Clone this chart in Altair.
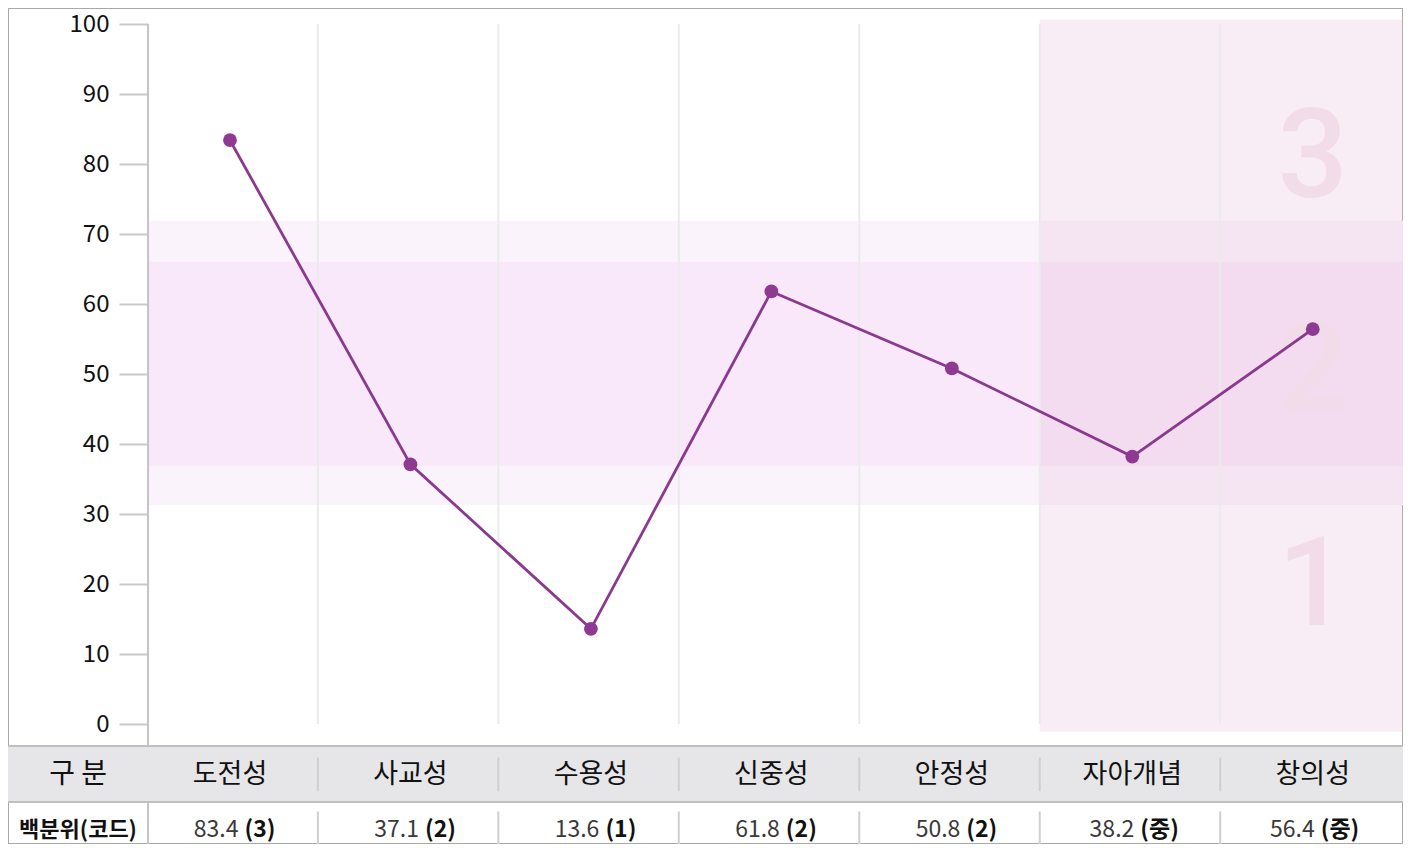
import altair as alt
import pandas as pd

# ---- data ----
categories = ["도전성", "사교성", "수용성", "신중성", "안정성", "자아개념", "창의성"]
percentiles = [83.4, 37.1, 13.6, 61.8, 50.8, 38.2, 56.4]
codes = ["3", "2", "1", "2", "2", "중", "중"]
y_ticks = [0, 10, 20, 30, 40, 50, 60, 70, 80, 90, 100]
outer_band = [31.3, 71.9]
inner_band = [36.9, 66.0]
zone_labels = ["3", "2", "1"]
zone_label_levels = [75.3, 44.8, 14.1]
header_label = "구 분"
row_label = "백분위(코드)"

FONT = "Noto Sans CJK KR"
XMIN, XMAX = -1.23, 6.5
YMIN, YMAX = -17.14, 102.29
HEAD_TOP, HEAD_BOT = -3.14, -11.14
PX = 180.5  # pixels per x unit
SEP = 0.487  # column separator offset from a category centre

n = len(categories)
# split "83.4 (3)" into a regular number part and a bold code part, centred together
num_w = 50.0
code_w = [27.0 if c.isdigit() else 40.0 for c in codes]
gap = 6.0
num_end = [(num_w + gap + w) / 2 - gap - w for w in code_w]
df = pd.DataFrame({
    "idx": list(range(n)),
    "cat": categories,
    "pct": percentiles,
    "num": [f"{p}" for p in percentiles],
    "code": [f"({c})" for c in codes],
    "nx": [i + e / PX for i, e in enumerate(num_end)],
    "cx": [i + (e + gap) / PX for i, e in enumerate(num_end)],
})

xs = alt.Scale(domain=[XMIN, XMAX], nice=False, zero=False)
ys = alt.Scale(domain=[YMIN, YMAX], nice=False, zero=False)

X = lambda f: alt.X(f, type="quantitative", scale=xs, axis=None)

bands = pd.DataFrame({
    "x0": [-0.454, -0.454], "x1": [XMAX, XMAX],
    "y0": [outer_band[0], inner_band[0]], "y1": [outer_band[1], inner_band[1]],
    "c": ["#faf3fb", "#f8e8f9"],
})
band_layer = alt.Chart(bands).mark_rect().encode(
    x=X("x0"), x2="x1",
    y=alt.Y("y0:Q", scale=ys, axis=alt.Axis(
        values=y_ticks, domain=False, grid=False, offset=-140,
        tickSize=29, tickColor="#c8c8c8", tickWidth=2,
        labelFont=FONT, labelFontSize=24, labelColor="#111111",
        labelPadding=10, title=None)),
    y2="y1",
    color=alt.Color("c:N", scale=None),
)

zone = pd.DataFrame({"x0": [4 + SEP], "x1": [XMAX], "y0": [-1.1], "y1": [100.6]})
zone_layer = alt.Chart(zone).mark_rect(color="#e9b6d6", opacity=0.25).encode(
    x=X("x0"), x2="x1", y=alt.Y("y0:Q", scale=ys), y2="y1")

grid = pd.DataFrame({"x": [i + SEP for i in range(n - 1)], "y0": 0, "y1": 100})
grid_layer = alt.Chart(grid).mark_rule(color="#ebebeb", strokeWidth=2).encode(
    x=X("x"), y=alt.Y("y0:Q", scale=ys), y2="y1")

zl = pd.DataFrame({"t": zone_labels, "y": zone_label_levels, "x": [n - 1] * 3})
zl_layer = alt.Chart(zl).mark_text(
    font="Roboto", fontSize=124, fontWeight=500, color="#f2dcea",
    baseline="alphabetic", align="center"
).encode(x=X("x"), y=alt.Y("y:Q", scale=ys), text="t:N")

axis_line = pd.DataFrame({"x": [-0.454], "y0": [YMIN], "y1": [100]})
axis_layer = alt.Chart(axis_line).mark_rule(color="#c4c4c4", strokeWidth=2).encode(
    x=X("x"), y=alt.Y("y0:Q", scale=ys), y2="y1")

# table
head = pd.DataFrame({"x0": [XMIN], "x1": [XMAX], "y0": [HEAD_BOT], "y1": [HEAD_TOP]})
head_layer = alt.Chart(head).mark_rect(color="#e6e6e8").encode(
    x=X("x0"), x2="x1", y=alt.Y("y0:Q", scale=ys), y2="y1")

hlines = pd.DataFrame({"x0": [XMIN, XMIN], "x1": [XMAX, XMAX], "y": [HEAD_TOP, HEAD_BOT]})
hline_layer = alt.Chart(hlines).mark_rule(color="#c0c0c0", strokeWidth=2).encode(
    x=X("x0"), x2="x1", y=alt.Y("y:Q", scale=ys))

seps = pd.DataFrame({
    "x": [i + SEP for i in range(n - 1)] * 2,
    "y0": [-4.8] * (n - 1) + [-12.5] * (n - 1),
    "y1": [-9.6] * (n - 1) + [-17.3] * (n - 1),
})
sep_layer = alt.Chart(seps).mark_rule(color="#cfcfcf", strokeWidth=2).encode(
    x=X("x"), y=alt.Y("y0:Q", scale=ys), y2="y1")

head_text = alt.Chart(df).mark_text(font=FONT, fontSize=27, color="#111111",
                                    baseline="middle").encode(
    x=X("idx"), y=alt.datum(-7.3, scale=ys), text="cat:N")
num_text = alt.Chart(df).mark_text(font=FONT, fontSize=23, color="#3a3a3a",
                                   baseline="middle", align="right").encode(
    x=X("nx"), y=alt.datum(-15.15, scale=ys), text="num:N")
code_text = alt.Chart(df).mark_text(font=FONT, fontSize=23, fontWeight="bold",
                                    color="#111111", baseline="middle", align="left").encode(
    x=X("cx"), y=alt.datum(-15.15, scale=ys), text="code:N")

rowlab = pd.DataFrame({"x": [-0.842, -0.842], "y": [-7.3, -15.15],
                       "t": [header_label, row_label]})
rowlab_layer1 = alt.Chart(rowlab.iloc[[0]]).mark_text(
    font=FONT, fontSize=28, color="#111111", baseline="middle").encode(
    x=X("x"), y=alt.Y("y:Q", scale=ys), text="t:N")
rowlab_layer2 = alt.Chart(rowlab.iloc[[1]]).mark_text(
    font=FONT, fontSize=22, fontWeight="bold", color="#111111", baseline="middle").encode(
    x=X("x"), y=alt.Y("y:Q", scale=ys), text="t:N")

line = alt.Chart(df).mark_line(color="#8a3a8e", strokeWidth=2.8).encode(
    x=X("idx"), y=alt.Y("pct:Q", scale=ys))
pts = alt.Chart(df).mark_circle(color="#8e3a92", size=190, opacity=1).encode(
    x=X("idx"), y=alt.Y("pct:Q", scale=ys))

chart = alt.layer(
    band_layer, zone_layer, grid_layer, zl_layer, axis_layer,
    head_layer, hline_layer, sep_layer, head_text, num_text, code_text,
    rowlab_layer1, rowlab_layer2, line, pts,
).properties(
    width=1395, height=836, padding=0, autosize=alt.AutoSizeParams(type="none"),
    background="white",
).configure_view(stroke="#a8a8a8", strokeWidth=2)

chart.save("out.html", embed_options={"renderer": "svg", "actions": False})
